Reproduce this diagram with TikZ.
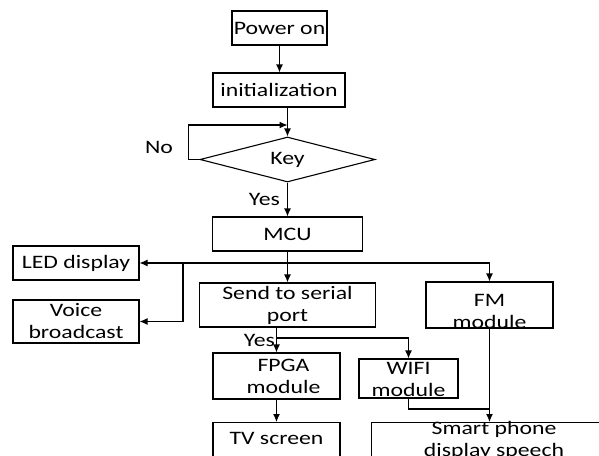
\documentclass[tikz,border=0pt]{standalone}
\usepackage{fontspec}
\setmainfont{Carlito}[FakeStretch=1.25]
\usetikzlibrary{shapes.geometric,arrows.meta,positioning}
\begin{document}
\begin{tikzpicture}[x=1pt, y=-1pt, line width=1.1pt,
  box/.style={draw, rectangle, inner sep=0pt, align=center, font=\fontsize{19}{22}\selectfont},
  arr/.style={-{Latex[length=8pt,width=7pt]}},
  lbl/.style={inner sep=1pt, font=\fontsize{19}{22}\selectfont}]
  \useasboundingbox (0,0) rectangle (599,455);
  % 시작과 판단
  \node[box, minimum width=95, minimum height=34] (power) at (279.5,28) {Power on};
  \node[box, minimum width=132, minimum height=34] (init) at (279,90) {initialization};
  \node[draw, diamond, aspect=3.9, minimum width=175, minimum height=45, inner sep=0pt,
    font=\fontsize{19}{22}\selectfont] (key) at (287.5,159.5) {Key};
  \node[box, minimum width=150, minimum height=34] (mcu) at (287.5,234) {MCU};
  % 왼쪽 출력
  \node[box, minimum width=126, minimum height=34] (led) at (76,263) {LED display};
  \node[box, minimum width=126, minimum height=43] (voice) at (76,321.5) {Voice\\broadcast};
  % 가운데와 오른쪽
  \node[box, minimum width=176, minimum height=44] (send) at (287.5,305) {Send to serial\\port};
  \node[box, minimum width=127, text height=46pt, text depth=0pt] (fm) at (489.5,305) {FM\\module};
  \node[box, minimum width=127, minimum height=46] (fpga) at (276.5,376) {\hspace{14pt}FPGA\\\hspace{14pt}module};
  \node[box, minimum width=99, text height=37pt, text depth=2pt] (wifi) at (408.5,378.5) {WIFI\\module};
  % 아래쪽(잘림)
  \node[box, anchor=north, minimum width=127, text height=16pt, text depth=40pt,
    inner ysep=6pt] (tv) at (276.5,422) {TV screen};
  \node[box, anchor=north west, minimum width=245, text height=34pt, text depth=30pt]
    (phone) at (371,422) {Smart phone\\display speech};
  % 연결선
  \coordinate (nojoin) at (287.5,125);
  \coordinate (hub) at (mcu.south |- led.east);
  \coordinate (vsplit) at (183,263);
  \coordinate (sendout) at (send.south -| fpga.north);
  \coordinate (wsplit) at (276.5,338);
  \coordinate (merge) at (489.5,409);
  \draw[arr] (power.south) -- (power.south |- init.north);
  \draw[arr] (init.south -| key.north) -- (key.north);
  \draw[arr] (key.west) -- ++(-11,0) |- (nojoin);
  \node[lbl] (no) at (159,147) {No};
  \draw[arr] (key.south) -- node[lbl, left=6pt] (yes1) {Yes} (mcu.north);
  \draw[arr] (mcu.south) -- (send.north);
  \draw[arr] (hub) -- (led.east);
  \draw[arr] (hub) -| (fm.north);
  \draw[arr] (vsplit) |- (voice.east);
  \draw[arr] (sendout) -- node[lbl, left=0pt] (yes2) {Yes} (fpga.north);
  \draw[arr] (wsplit) -| (wifi.north);
  \draw[arr] (fpga.south) -- (tv.north);
  \draw[arr] (fm.south) -- (fm.south |- phone.north);
  \draw (wifi.south) |- (merge);
\end{tikzpicture}
\end{document}
